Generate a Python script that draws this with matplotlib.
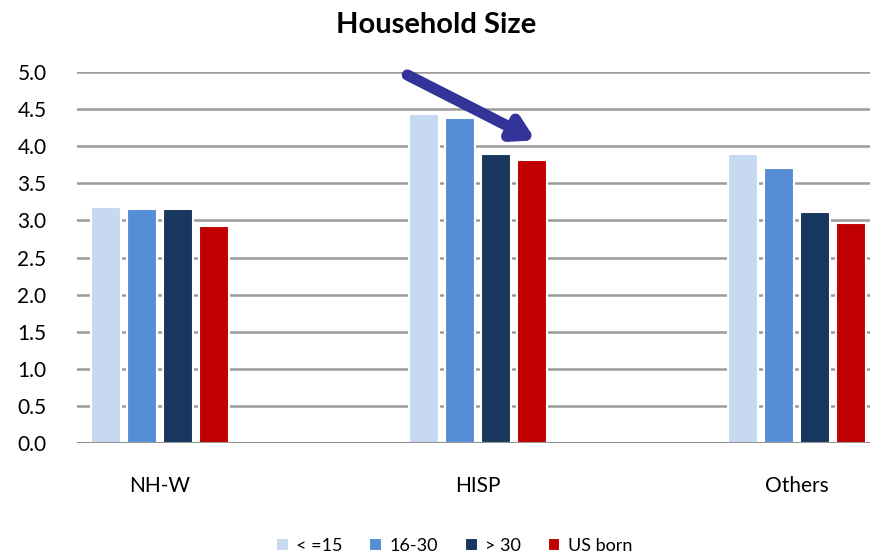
import numpy as np
import matplotlib.pyplot as plt

plt.rcParams['font.family'] = ['Lato', 'DejaVu Sans']

groups = ['NH-W', 'HISP', 'Others']
series = ['< =15', '16-30', '> 30', 'US born']
le15 = [3.18, 4.43, 3.90]
s16_30 = [3.15, 4.38, 3.71]
gt30 = [3.15, 3.89, 3.12]
us_born = [2.92, 3.81, 2.97]
colors = ['#c6d9f1', '#558ed5', '#17375e', '#c00000']
yticks = np.arange(0, 5.01, 0.5)

fig = plt.figure(figsize=(8.73, 5.58), dpi=100)
ax = fig.add_axes([0.0882, 0.206, 0.9085, 0.665])

x = np.arange(len(groups))
pitch = 0.113
width = 0.095
for i, (vals, c, name) in enumerate(zip([le15, s16_30, gt30, us_born], colors, series)):
    ax.bar(x + (i - 1.5) * pitch, vals, width, color=c, edgecolor='white',
           linewidth=1.5, label=name, zorder=3)

ax.set_ylim(0, 5)
ax.set_xlim(-0.26, 2.23)
ax.set_yticks(yticks)
ax.set_yticklabels([f'{v:.1f}' for v in yticks], fontsize=15)
ax.set_xticks(x)
ax.set_xticklabels(groups, fontsize=15)
ax.tick_params(axis='x', length=0, pad=24)
ax.tick_params(axis='y', length=0, pad=22)
ax.yaxis.grid(True, color='#9a9a9a', linewidth=1.8, zorder=0)
ax.axhline(0, color='#888888', linewidth=2, zorder=4)
for s in ax.spines.values():
    s.set_visible(False)

# trend arrow over the HISP group
ax.annotate('', xy=(1.18, 4.08), xytext=(0.777, 4.96),
            arrowprops=dict(arrowstyle='-|>,head_width=0.7,head_length=1.2',
                            color='#333399', lw=8, shrinkA=0, shrinkB=0),
            zorder=5)

fig.suptitle('Household Size', fontsize=21, fontweight='bold', y=0.978)
fig.legend(loc='lower center', bbox_to_anchor=(0.52, -0.022), ncol=4, frameon=False,
           fontsize=13, handlelength=0.7, handleheight=0.7, handletextpad=0.4,
           columnspacing=1.5)

plt.savefig('out.png', dpi=100)
